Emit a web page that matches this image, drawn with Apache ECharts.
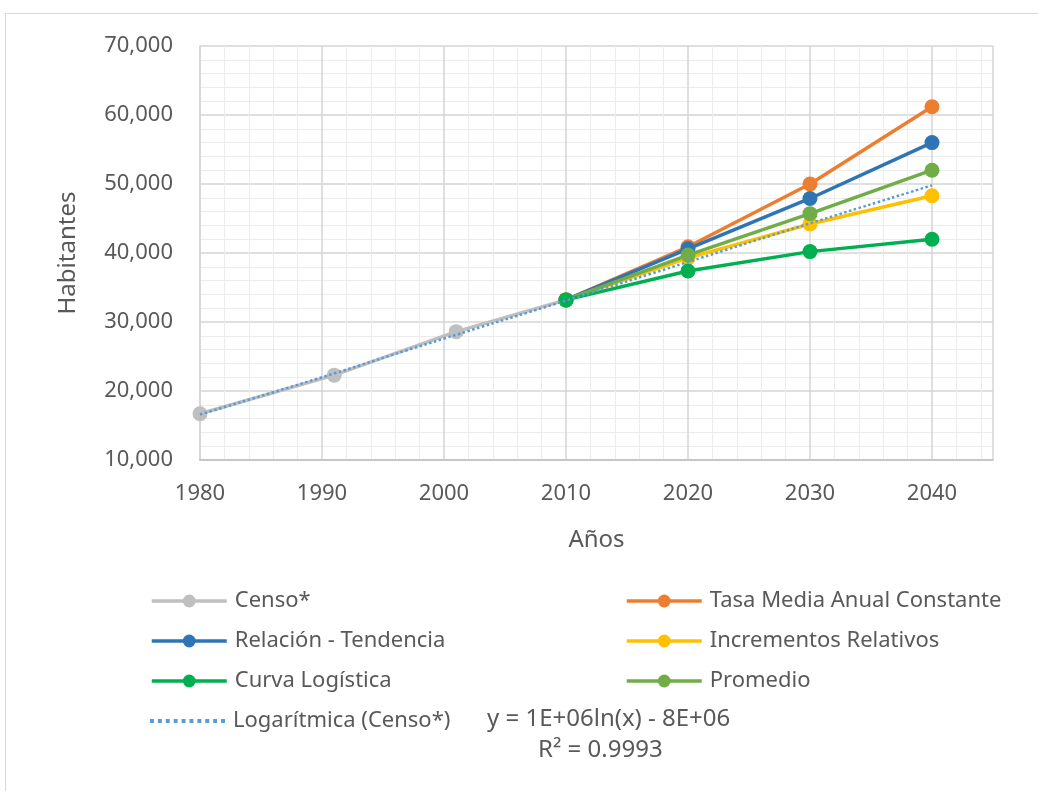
<!DOCTYPE html>
<html>
<head>
<meta charset="utf-8">
<script src="https://cdn.jsdelivr.net/npm/echarts@6/dist/echarts.min.js"></script>
<style>
  html, body { margin: 0; padding: 0; background: #fff; }
  #frame { position: absolute; left: 5px; top: 13px; width: 1040px; height: 790px; border: 1px solid #d9d9d9; box-sizing: border-box; }
  #chart { position: absolute; left: 0; top: 0; width: 1038px; height: 791px; }
</style>
</head>
<body>
<div id="frame"></div>
<div id="chart"></div>
<script>
// datos
var censoYears = [1980, 1991, 2001, 2010];
var censo = [16700, 22300, 28600, 33200];
var projYears = [2010, 2020, 2030, 2040];
var tasaMedia = [33200, 40900, 50000, 61200];
var relacion = [33200, 40600, 47900, 56000];
var incrementos = [33200, 39300, 44200, 48300];
var logistica = [33200, 37400, 40200, 42000];
var promedio = [33200, 39700, 45700, 52000];
var trendYears = [1980, 1990, 2000, 2010, 2020, 2030, 2040];
var trendVals = [16600, 22000, 27600, 33100, 38700, 44300, 49800];
var yTicks = [10000, 70000];

function pairs(xs, ys) { return xs.map(function (x, i) { return [x, ys[i]]; }); }

var font = 'Noto Sans';
var myChart = echarts.init(document.getElementById('chart'));

function lineSeries(name, color, xs, ys, z) {
  return {
    name: name, type: 'line', data: pairs(xs, ys), z: z,
    symbol: 'circle', symbolSize: 15,
    lineStyle: { color: color, width: 3.5 },
    itemStyle: { color: color },
    emphasis: { disabled: true }
  };
}

var legendText = { fontFamily: font, fontSize: 22, lineHeight: 24, color: '#595959', padding: [0, 0, 0, 3] };

// icono punteado para la linea de tendencia
var dots = '';
for (var i = 0; i < 10; i++) { dots += 'M' + (i * 8) + ',0h4v4h-4z'; }

var option = {
  animation: false,
  grid: { left: 200, right: 45, top: 46, bottom: 331 },
  xAxis: {
    type: 'value', min: 1980, max: 2045, interval: 10,
    name: 'Años', nameLocation: 'middle', nameGap: 68,
    nameTextStyle: { fontFamily: font, fontSize: 24, color: '#595959' },
    axisLine: { show: true, lineStyle: { color: '#bfbfbf', width: 1.5 } },
    axisTick: { show: false },
    axisLabel: {
      showMaxLabel: false, margin: 23, fontFamily: font, fontSize: 22, color: '#595959',
      formatter: function (v) { return String(v); }
    },
    splitLine: { show: true, lineStyle: { color: '#d4d4d4', width: 1.5 } },
    minorTick: { show: false, splitNumber: 5 },
    minorSplitLine: { show: true, lineStyle: { color: '#ececec', width: 1 } }
  },
  yAxis: {
    type: 'value', min: yTicks[0], max: yTicks[1], interval: 10000,
    name: 'Habitantes', nameLocation: 'middle', nameGap: 120, nameRotate: 90,
    nameTextStyle: { fontFamily: font, fontSize: 24, color: '#595959' },
    axisLine: { show: true, lineStyle: { color: '#d4d4d4', width: 1.5 } },
    axisTick: { show: false },
    axisLabel: {
      margin: 27, fontFamily: font, fontSize: 22, color: '#595959',
      formatter: function (v) { return v.toLocaleString('en-US'); }
    },
    splitLine: { show: true, lineStyle: { color: '#d4d4d4', width: 1.5 } },
    minorTick: { show: false, splitNumber: 5 },
    minorSplitLine: { show: true, lineStyle: { color: '#ececec', width: 1 } }
  },
  legend: [
    {
      orient: 'vertical', left: 150, top: 589, padding: 0, itemGap: 16, itemWidth: 75, itemHeight: 16,
      textStyle: legendText, lineStyle: { width: 3.5 },
      data: ['Censo*', 'Relación - Tendencia', 'Curva Logística']
    },
    {
      orient: 'vertical', left: 150, top: 709, padding: 0, itemWidth: 75, itemHeight: 4,
      textStyle: { fontFamily: font, fontSize: 22, lineHeight: 24, color: '#595959', padding: [0, 0, 0, 3] },
      data: [{ name: 'Logarítmica (Censo*)', icon: 'path://' + dots }]
    },
    {
      orient: 'vertical', left: 625, top: 589, padding: 0, itemGap: 16, itemWidth: 75, itemHeight: 16,
      textStyle: legendText, lineStyle: { width: 3.5 },
      data: ['Tasa Media Anual Constante', 'Incrementos Relativos', 'Promedio']
    }
  ],
  graphic: [
    { type: 'text', left: 487, top: 707, style: { text: 'y = 1E+06ln(x) - 8E+06', font: '24px "Noto Sans"', fill: '#595959' } },
    { type: 'text', left: 538, top: 738, style: { text: 'R² = 0.9993', font: '24px "Noto Sans"', fill: '#595959' } }
  ],
  series: [
    lineSeries('Censo*', '#bfbfbf', censoYears, censo, 2),
    lineSeries('Tasa Media Anual Constante', '#ed7d31', projYears, tasaMedia, 3),
    lineSeries('Relación - Tendencia', '#2e75b6', projYears, relacion, 4),
    lineSeries('Incrementos Relativos', '#ffc000', projYears, incrementos, 5),
    lineSeries('Promedio', '#70ad47', projYears, promedio, 6),
    lineSeries('Curva Logística', '#00b050', projYears, logistica, 7),
    {
      name: 'Logarítmica (Censo*)', type: 'line', data: pairs(trendYears, trendVals), z: 8,
      symbol: 'none', smooth: true,
      lineStyle: { color: '#5b9bd5', width: 2.5, type: 'dotted' },
      itemStyle: { color: '#5b9bd5' },
      emphasis: { disabled: true }
    }
  ]
};
myChart.setOption(option);
</script>
</body>
</html>
